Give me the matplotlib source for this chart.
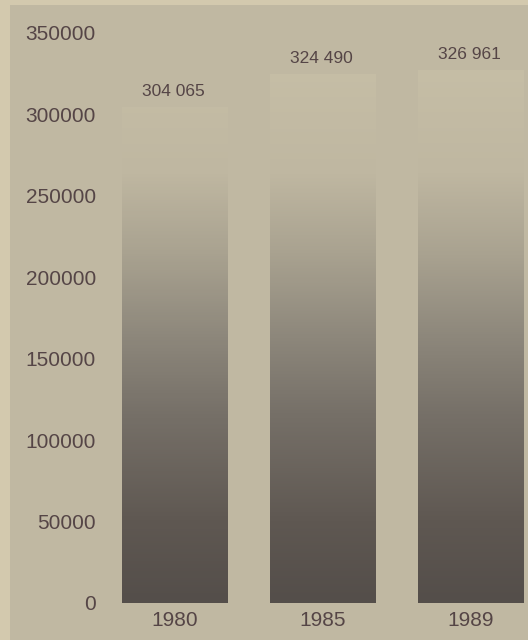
import matplotlib
matplotlib.use('Agg')
from matplotlib import pyplot as plt
from matplotlib.colors import LinearSegmentedColormap
import matplotlib.patches
import numpy as np

years = ['1980', '1985', '1989']
values = [304065, 324490, 326961]
value_labels = ['304 065', '324 490', '326 961']
yticks = [0, 50000, 100000, 150000, 200000, 250000, 300000, 350000]

plt.rcParams['font.family'] = ['Liberation Sans', 'DejaVu Sans']
text_color = '#554546'
paper = '#d3c9ae'
panel = '#c0b8a2'

fig = plt.figure(figsize=(5.28, 6.4), dpi=100, facecolor=paper)
# grey printed panel behind the chart
fig.patches.append(matplotlib.patches.Rectangle((10/528, 0), 1, 635/640, transform=fig.transFigure,
                                                facecolor=panel, edgecolor='none', zorder=-5))

ax = fig.add_axes((100/528, 37/640, 428/528, 603/640))
ax.set_facecolor('none')
for s in ax.spines.values():
    s.set_visible(False)

ymax = 370000
# bars fade from dark at the base into the paper at the top
cmap = LinearSegmentedColormap.from_list('fade', [
    (0.0, '#544e4a'), (0.15, '#5f5852'), (0.35, '#767068'), (0.5, '#8e887c'),
    (0.65, '#a9a290'), (0.8, '#bfb7a1'), (1.0, '#c6bea6')])

x = np.arange(len(years))
bars = ax.bar(x, values, width=0.716, facecolor='none', edgecolor='none')
for bar, v in zip(bars, values):
    x0, w = bar.get_x(), bar.get_width()
    grad = np.linspace(0, v, 256).reshape(-1, 1)
    im = ax.imshow(grad, extent=(x0, x0 + w, 0, v), origin='lower', aspect='auto',
                   cmap=cmap, vmin=0, vmax=330000, zorder=1)
    im.set_clip_path(bar)

for xi, v, lab in zip(x, values, value_labels):
    ax.annotate(lab, xy=(xi, v), xytext=(-1, 6), textcoords='offset points',
                ha='center', va='bottom', fontsize=12.5, color=text_color)

ax.set_xlim(-0.507, 2.385)
ax.set_ylim(0, ymax)
ax.set_xticks(x, years)
ax.set_yticks(yticks, [str(t) for t in yticks])
ax.tick_params(axis='both', length=0, labelsize=15, labelcolor=text_color)
ax.tick_params(axis='y', pad=3)
ax.tick_params(axis='x', pad=6)

plt.savefig('out.png', dpi=100, facecolor=paper)
